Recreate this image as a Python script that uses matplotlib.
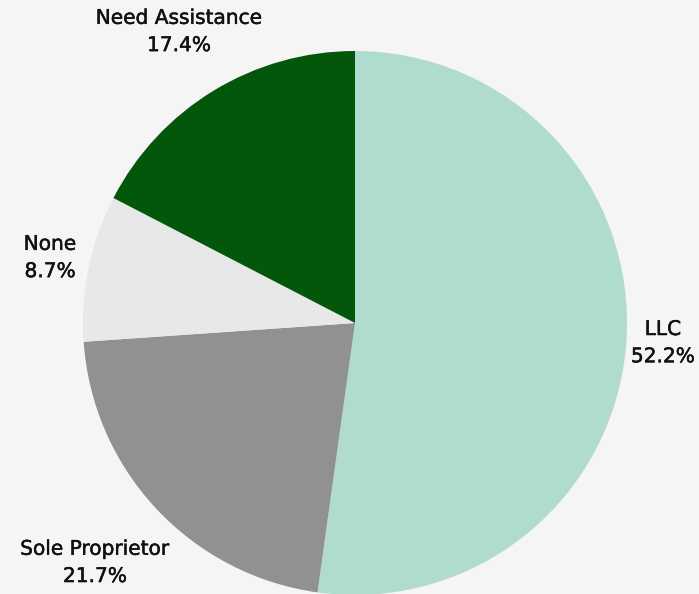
import numpy as np
import matplotlib
matplotlib.use("Agg")
import matplotlib.pyplot as plt
import matplotlib.patheffects as pe

# data
labels = ["LLC", "Sole Proprietor", "None", "Need Assistance"]
shares = [52.2, 21.7, 8.7, 17.4]
colors = ["#b0dccf", "#919191", "#e8e8e8", "#02570a"]

# label centres (data units, pie radius = 1)
label_pos = [(1.132, -0.074), (-0.956, -0.882), (-1.121, 0.239), (-0.647, 1.070)]

W, H = 699, 594
cx, cy, R = 355, 323, 272

fig = plt.figure(figsize=(W / 100, H / 100), dpi=100, facecolor="#f5f5f5")
ax = fig.add_axes([0, 0, 1, 1])
ax.set_facecolor("#f5f5f5")

ax.pie(shares, colors=colors, startangle=90, counterclock=False, radius=1,
       wedgeprops=dict(linewidth=0))

for lab, val, (x, y) in zip(labels, shares, label_pos):
    ax.text(x, y, f"{lab}\n{val:.1f}%", ha="center", va="center",
            fontsize=14.5, fontfamily="DejaVu Sans", color="#111111",
            linespacing=1.55,
            path_effects=[pe.withStroke(linewidth=0.35, foreground="#111111")])

ax.set_xlim(-cx / R, (W - cx) / R)
ax.set_ylim(-(H - cy) / R, cy / R)
ax.set_aspect("equal")
ax.axis("off")

fig.savefig("out.png", dpi=100, facecolor=fig.get_facecolor())
